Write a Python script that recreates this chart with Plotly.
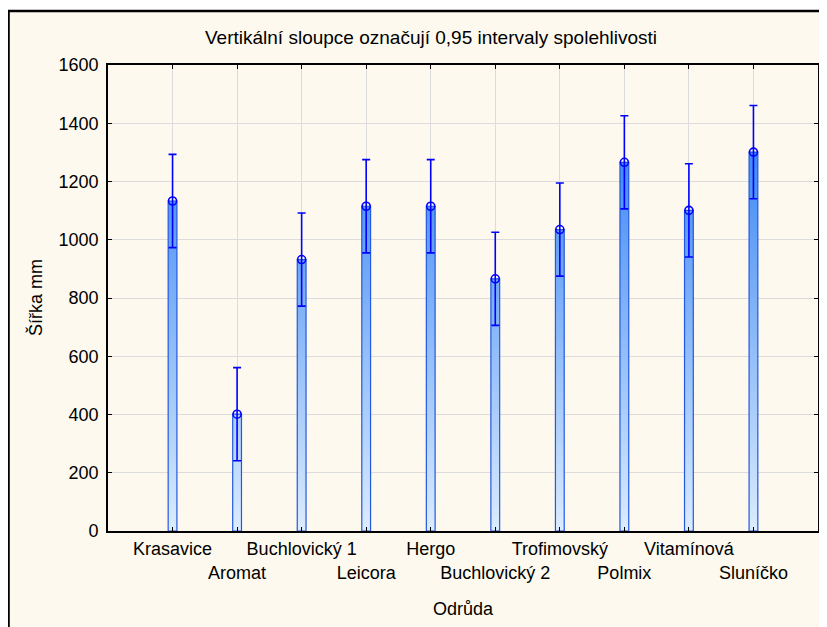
import plotly.graph_objects as go

categories = ["Krasavice", "Aromat", "Buchlovický 1", "Leicora", "Hergo",
              "Buchlovický 2", "Trofimovský", "Polmix", "Vitamínová", "Sluníčko"]
means = [1133, 401, 932, 1115, 1115, 866, 1035, 1266, 1101, 1301]
ci_half = [160, 160, 160, 160, 160, 160, 160, 160, 160, 160]
y_ticks = [0, 200, 400, 600, 800, 1000, 1200, 1400, 1600]

FONT = "Liberation Sans, Arial, sans-serif"
positions = list(range(1, len(categories) + 1))
half_w = 0.068

fig = go.Figure()

# bars with vertical gradient (polygons built from data values)
for xp, m in zip(positions, means):
    fig.add_trace(go.Scatter(
        x=[xp - half_w, xp - half_w, xp + half_w, xp + half_w, xp - half_w],
        y=[0, m, m, 0, 0],
        mode="lines", fill="toself",
        line=dict(color="#2458e0", width=1.2),
        fillgradient=dict(type="vertical", start=0, stop=1350,
                          colorscale=[[0, "#dbecfd"], [1, "#3a86f4"]]),
        hoverinfo="skip", showlegend=False))

# means with confidence intervals
fig.add_trace(go.Scatter(
    x=positions, y=means, mode="markers",
    marker=dict(symbol="circle-open", size=8, color="#0000ff",
                line=dict(color="#0000ff", width=1.6)),
    error_y=dict(type="data", array=ci_half, visible=True,
                 color="#0000ff", thickness=1.6, width=4),
    showlegend=False))

ticktext = [c if i % 2 == 0 else "<br>" + c for i, c in enumerate(categories)]

fig.update_layout(
    width=819, height=619,
    margin=dict(l=100, r=9, t=57, b=96),
    paper_bgcolor="white", plot_bgcolor="white",
    font=dict(family=FONT, size=18, color="black"),
    xaxis=dict(range=[0, len(categories) + 1], tickmode="array",
               tickvals=positions, ticktext=ticktext, tickangle=0,
               automargin=False, ticklabelstandoff=1,
               showgrid=True, gridcolor="#dcdcdc", gridwidth=1,
               showline=True, linecolor="black", linewidth=1.6, mirror="ticks",
               ticks="inside", ticklen=4, tickcolor="black",
               zeroline=False, fixedrange=True),
    yaxis=dict(range=[0, 1600], tickmode="array", tickvals=y_ticks,
               automargin=False, ticklabelstandoff=4,
               showgrid=True, gridcolor="#dcdcdc", gridwidth=1,
               showline=True, linecolor="black", linewidth=1.6, mirror="ticks",
               ticks="inside", ticklen=4, tickcolor="black",
               zeroline=False, fixedrange=True),
    shapes=[dict(type="rect", xref="paper", yref="paper",
                 x0=-0.1401, x1=1.05, y0=-0.3, y1=1.1159,
                 line=dict(color="black", width=2.5),
                 fillcolor="#fdf9ee", layer="below")],
    annotations=[
        dict(text="Vertikální sloupce označují 0,95 intervaly spolehlivosti",
             xref="paper", yref="paper", x=0.455, y=1.058,
             xanchor="center", yanchor="middle", showarrow=False,
             font=dict(family=FONT, size=19)),
        dict(text="Šířka mm", xref="paper", yref="paper",
             x=-0.1028, y=0.5, textangle=-90,
             xanchor="center", yanchor="middle", showarrow=False,
             font=dict(family=FONT, size=18)),
        dict(text="Odrůda", xref="paper", yref="paper",
             x=0.5, y=-0.167, xanchor="center", yanchor="middle",
             showarrow=False, font=dict(family=FONT, size=18)),
    ],
)

fig.write_html("out.html")
